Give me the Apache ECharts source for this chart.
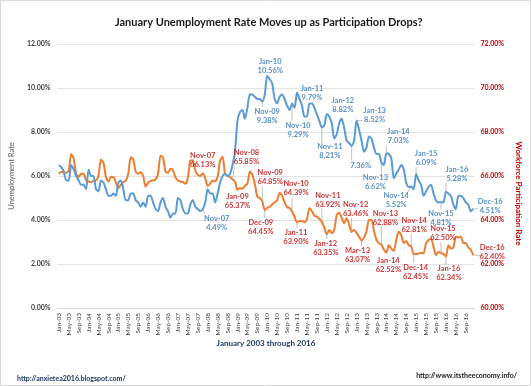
<!DOCTYPE html>
<html><head><meta charset="utf-8">
<script src="https://cdn.jsdelivr.net/npm/echarts@6/dist/echarts.min.js"></script>
<style>html,body{margin:0;padding:0;background:#fff}#c{width:531px;height:386px}</style>
</head><body><div id="c"></div>
<script>
// ---------- data ----------
const monthNames = ['Jan','Feb','Mar','Apr','May','Jun','Jul','Aug','Sep','Oct','Nov','Dec'];
const yearLabels = ['03','04','05','06','07','08','09','10','11','12','13','14','15','16'];
const categories = [];
yearLabels.forEach(y => monthNames.forEach(m => categories.push(m + '-' + y)));

// Unemployment rate (%), Jan-03 .. Dec-16
const unemployment = [
  6.5, 6.4, 6.2, 5.8, 5.8, 6.5, 6.3, 6.0, 5.8, 5.6, 5.6, 5.4,
  6.3, 6.0, 6.0, 5.4, 5.3, 5.8, 5.7, 5.4, 5.1, 5.1, 5.2, 5.1,
  5.7, 5.8, 5.4, 4.9, 4.9, 5.2, 5.2, 4.9, 4.8, 4.6, 4.8, 4.6,
  5.1, 5.1, 4.8, 4.5, 4.4, 4.8, 5.0, 4.6, 4.4, 4.1, 4.3, 4.3,
  5.0, 4.9, 4.5, 4.3, 4.3, 4.7, 4.9, 4.6, 4.5, 4.4, 4.49, 4.8,
  5.4, 5.2, 5.2, 4.8, 5.2, 5.7, 6.0, 6.1, 6.0, 6.1, 6.5, 7.1,
  8.5, 8.9, 9.0, 8.6, 9.1, 9.7, 9.7, 9.6, 9.5, 9.5, 9.38, 9.7,
  10.56, 10.4, 10.2, 9.5, 9.3, 9.6, 9.7, 9.5, 9.2, 9.0, 9.29, 9.1,
  9.79, 9.5, 9.2, 8.7, 8.7, 9.3, 9.3, 9.1, 8.8, 8.5, 8.21, 8.3,
  8.82, 8.7, 8.4, 7.7, 7.9, 8.4, 8.6, 8.2, 7.6, 7.5, 7.36, 7.6,
  8.52, 8.1, 7.6, 7.1, 7.3, 7.8, 7.7, 7.3, 7.0, 7.0, 6.62, 6.5,
  7.03, 7.0, 6.8, 5.9, 6.1, 6.3, 6.5, 6.3, 5.7, 5.5, 5.52, 5.4,
  6.09, 5.8, 5.6, 5.1, 5.3, 5.5, 5.6, 5.2, 4.9, 4.8, 4.81, 4.8,
  5.28, 5.2, 5.1, 4.7, 4.5, 5.1, 5.1, 5.0, 4.8, 4.7, 4.4, 4.51
];

// Workforce participation rate (%), Jan-03 .. Dec-16
const participation = [
  66.10, 66.18, 66.18, 66.15, 66.25, 67.00, 66.80, 66.10, 65.95, 66.10, 66.10, 65.80,
  65.75, 65.72, 65.78, 65.80, 66.00, 66.75, 66.60, 65.95, 65.75, 65.95, 65.95, 65.70,
  65.45, 65.60, 65.72, 65.80, 66.10, 66.85, 66.75, 66.20, 66.10, 66.17, 66.00, 65.52,
  65.70, 65.78, 65.80, 65.85, 66.10, 66.92, 66.85, 66.20, 66.15, 66.33, 66.26, 65.95,
  65.80, 65.75, 65.72, 65.65, 65.90, 66.70, 66.72, 66.25, 66.05, 66.00, 66.13, 65.90,
  65.55, 65.65, 65.80, 65.75, 65.95, 66.70, 66.88, 66.10, 66.00, 65.95, 65.85, 65.75,
  65.37, 65.45, 65.42, 65.55, 65.65, 66.20, 66.05, 65.65, 65.06, 65.00, 64.85, 64.45,
  64.55, 64.60, 64.72, 64.80, 64.90, 65.24, 65.10, 64.80, 64.58, 64.55, 64.39, 64.15,
  63.90, 63.95, 63.95, 63.90, 64.05, 64.53, 64.40, 64.20, 64.15, 64.05, 63.92, 63.65,
  63.35, 63.55, 63.40, 63.55, 64.23, 64.33, 64.10, 63.85, 64.08, 63.80, 63.46, 63.55,
  63.40, 63.25, 63.07, 63.20, 63.50, 64.00, 64.00, 63.50, 63.10, 62.95, 62.88, 62.65,
  62.52, 62.85, 62.70, 62.60, 63.10, 63.47, 63.30, 62.95, 63.05, 62.85, 62.81, 62.45,
  62.45, 62.48, 62.50, 62.50, 62.95, 63.09, 63.15, 62.79, 62.41, 62.55, 62.50, 62.45,
  62.34, 62.85, 62.70, 62.75, 63.25, 63.20, 63.25, 62.95, 62.95, 62.75, 62.65, 62.40
];

const leftAxisRange = [0, 12, 2];
const rightAxisRange = [60, 72, 2];

// annotated months
const unempLabelMonths = ['Nov-07','Nov-09','Jan-10','Nov-10','Jan-11','Nov-11','Jan-12','Nov-12','Jan-13','Nov-13','Jan-14','Nov-14','Jan-15','Nov-15','Jan-16','Dec-16'];
const unempValueOnly = ['Nov-12'];
const partLabelMonths = ['Nov-07','Nov-08','Jan-09','Nov-09','Dec-09','Nov-10','Jan-11','Nov-11','Jan-12','Nov-12','Mar-13','Nov-13','Jan-14','Nov-14','Dec-14','Nov-15','Jan-16','Dec-16'];

// ---------- layout (label offsets from their point, px) ----------
const unempOffsets = {
  'Nov-07':[14,14],'Nov-09':[5,14],'Jan-10':[3,-10],'Nov-10':[6,26],'Jan-11':[15,0],
  'Nov-11':[8,24],'Jan-12':[16,-9],'Nov-12':[9,19],'Jan-13':[18,-5],'Nov-13':[-6,20],
  'Jan-14':[12,-17],'Nov-14':[-15,14],'Jan-15':[10,-16],'Nov-15':[0,16],'Jan-16':[11,-18],'Dec-16':[17,-3]
};
const partOffsets = {
  'Nov-07':[0,-13],'Nov-08':[14,-22],'Jan-09':[0,11],'Nov-09':[8,-24],'Dec-09':[-4,17],
  'Nov-10':[4,-23],'Jan-11':[-1,15],'Nov-11':[6,-22],'Jan-12':[-1,14],'Nov-12':[4,-23],
  'Mar-13':[-4,15],'Nov-13':[4,-27],'Jan-14':[2,13],'Nov-14':[3,-21],'Dec-14':[2,18],
  'Nov-15':[2,-20],'Jan-16':[3,17],'Dec-16':[19,-3]
};

const FONT = 'Lato';
const BLUE = '#5B9BD5', ORANGE = '#ED7D31', BLUE_TXT = '#2E75B6', RED_TXT = '#C00000';

function labelData(months, values) {
  return months.map(m => { const i = categories.indexOf(m); return { name: m, value: [i, values[i]] }; });
}
function layoutFrom(months, offsets) {
  return p => {
    const o = offsets[months[p.dataIndex]];
    const cx = p.rect.x + p.rect.width / 2, cy = p.rect.y + p.rect.height / 2;
    return { x: cx + o[0], y: cy + o[1], align: 'center', verticalAlign: 'middle' };
  };
}

const baseGraphics = [
  { type: 'rect', shape: { x: 0.5, y: 0.5, width: 530, height: 385 }, style: { fill: 'none', stroke: '#d9d9d9', lineWidth: 1 }, silent: true },
  { type: 'text', left: 17, top: 375, style: { text: 'http://anxietea2016.blogspot.com/', font: 'bold 7px Lato', fill: '#1F3864' } },
  { type: 'text', right: 14, top: 372, style: { text: 'http://www.itstheeconomy.info/', font: 'bold 7px Lato', fill: '#1a1a1a' } }
];

const chart = echarts.init(document.getElementById('c'), null, { renderer: 'canvas' });
chart.setOption({
  animation: false,
  backgroundColor: '#fff',
  title: {
    text: 'January Unemployment Rate Moves up as Participation Drops?',
    left: 110, top: 12,
    textStyle: { fontFamily: FONT, fontSize: 11, fontWeight: 'bold', color: '#1a1a1a' }
  },
  grid: { left: 56, right: 43, top: 44, bottom: 78, containLabel: false },
  xAxis: {
    type: 'category', data: categories, boundaryGap: true,
    axisLine: { show: true, lineStyle: { color: '#d9d9d9' } },
    axisTick: { show: false },
    axisLabel: { interval: 3, rotate: 90, fontFamily: FONT, fontSize: 6.5, color: '#404040', margin: 5 },
    name: 'January 2003 through 2016', nameLocation: 'middle', nameGap: 31, nameMoveOverlap: false,
    nameTextStyle: { fontFamily: FONT, fontSize: 8, fontWeight: 'bold', color: '#1F3864' }
  },
  yAxis: [{
    type: 'value', min: leftAxisRange[0], max: leftAxisRange[1], interval: leftAxisRange[2],
    axisLine: { show: false }, axisTick: { show: false },
    axisLabel: { formatter: v => v.toFixed(2) + '%', fontFamily: FONT, fontSize: 7, fontWeight: 'bold', color: '#404040', margin: 7 },
    splitLine: { lineStyle: { color: '#e3e3e3', width: 1 } },
    name: 'Unemployment Rate', nameLocation: 'middle', nameRotate: 90, nameGap: 33,
    nameTextStyle: { fontFamily: FONT, fontSize: 7.5, color: '#595959' }
  }, {
    type: 'value', min: rightAxisRange[0], max: rightAxisRange[1], interval: rightAxisRange[2], position: 'right',
    axisLine: { show: false }, axisTick: { show: false },
    axisLabel: { formatter: v => v.toFixed(2) + '%', fontFamily: FONT, fontSize: 7, fontWeight: 'bold', color: RED_TXT, margin: 6 },
    splitLine: { show: false },
    name: 'Workforce Participation Rate', nameLocation: 'middle', nameRotate: -90, nameGap: 32,
    nameTextStyle: { fontFamily: FONT, fontSize: 8, fontWeight: 'bold', color: RED_TXT, padding: [0, 0, 0, 35] }
  }],
  series: [{
    name: 'Unemployment Rate', type: 'line', yAxisIndex: 0, data: unemployment,
    showSymbol: false, smooth: 0.25, lineStyle: { color: BLUE, width: 2 }, itemStyle: { color: BLUE }, z: 3
  }, {
    name: 'Workforce Participation Rate', type: 'line', yAxisIndex: 1, data: participation,
    showSymbol: false, smooth: 0.25, lineStyle: { color: ORANGE, width: 2 }, itemStyle: { color: ORANGE }, z: 2
  }, {
    type: 'scatter', yAxisIndex: 0, data: labelData(unempLabelMonths, unemployment),
    symbolSize: 1, itemStyle: { color: 'rgba(0,0,0,0)' }, silent: true, z: 6,
    label: {
      show: true, position: 'inside', fontFamily: FONT, fontSize: 7.5, fontWeight: 'bold', color: BLUE_TXT, lineHeight: 9, align: 'center',
      formatter: p => (unempValueOnly.includes(p.name) ? '' : p.name + '\n') + p.value[1].toFixed(2) + '%'
    },
    labelLayout: layoutFrom(unempLabelMonths, unempOffsets)
  }, {
    type: 'scatter', yAxisIndex: 1, data: labelData(partLabelMonths, participation),
    symbolSize: 1, itemStyle: { color: 'rgba(0,0,0,0)' }, silent: true, z: 6,
    label: {
      show: true, position: 'inside', fontFamily: FONT, fontSize: 7.5, fontWeight: 'bold', color: RED_TXT, lineHeight: 9, align: 'center',
      formatter: p => p.name + '\n' + p.value[1].toFixed(2) + '%'
    },
    labelLayout: layoutFrom(partLabelMonths, partOffsets)
  }],
  graphic: { elements: baseGraphics }
});

// leader lines: from each annotated point (through the library's scales) to its label box edge
const leaders = [];
function addLeaders(months, values, offsets, yAxisIndex, valueOnly) {
  months.forEach(m => {
    const i = categories.indexOf(m);
    const p = chart.convertToPixel({ xAxisIndex: 0, yAxisIndex: yAxisIndex }, [i, values[i]]);
    const o = offsets[m];
    const cx = p[0] + o[0], cy = p[1] + o[1];
    const hw = 12, hh = valueOnly.includes(m) ? 4.5 : 9;
    const ex = Math.max(cx - hw, Math.min(p[0], cx + hw));
    const ey = Math.max(cy - hh, Math.min(p[1], cy + hh));
    if (Math.hypot(ex - p[0], ey - p[1]) > 4) {
      leaders.push({ type: 'line', z: 5, silent: true,
        shape: { x1: p[0], y1: p[1], x2: ex, y2: ey },
        style: { stroke: '#a6a6a6', lineWidth: 0.7 } });
    }
  });
}
addLeaders(unempLabelMonths, unemployment, unempOffsets, 0, unempValueOnly);
addLeaders(partLabelMonths, participation, partOffsets, 1, []);
chart.setOption({ graphic: { elements: baseGraphics.concat(leaders) } });
</script>
</body></html>
